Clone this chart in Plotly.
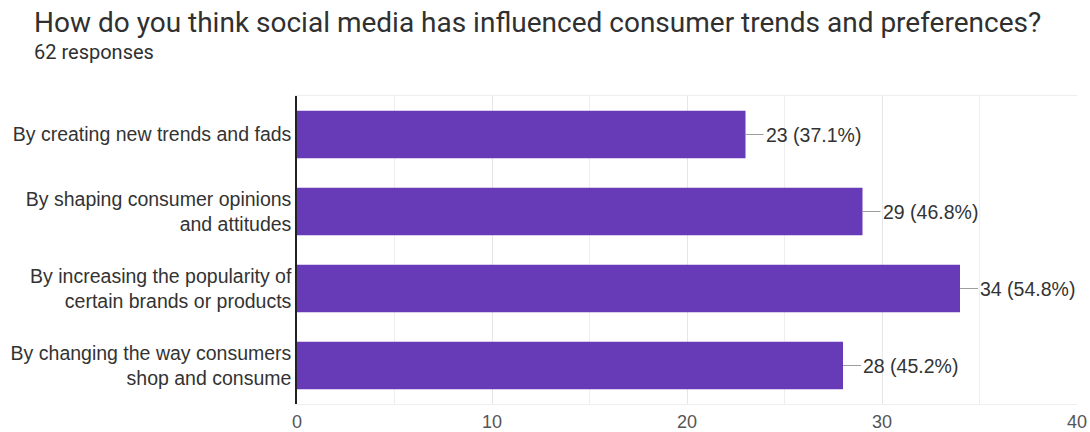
import plotly.graph_objects as go

categories = [
    "By creating new trends and fads",
    "By shaping consumer opinions<br>and attitudes",
    "By increasing the popularity of<br>certain brands or products",
    "By changing the way consumers<br>shop and consume",
]
counts = [23, 29, 34, 28]
percents = ["37.1%", "46.8%", "54.8%", "45.2%"]
x_ticks = [0, 10, 20, 30, 40]

title_text = "How do you think social media has influenced consumer trends and preferences?"
subtitle_text = "62 responses"

FONT = "Liberation Sans, Arial, sans-serif"
BAR = "#673ab7"

W, H = 1090, 432
ML, MR, MT, MB = 297, 13, 96, 28
PW, PH = W - ML - MR, H - MT - MB


def px_x(x):
    return (x - ML) / PW


def px_y(y):
    return (H - MB - y) / PH


fig = go.Figure()
fig.add_trace(go.Bar(
    x=counts, y=categories, orientation="h",
    marker=dict(color=BAR, line=dict(width=0)),
    width=0.62, hoverinfo="skip",
))

for c, p, cat in zip(counts, percents, categories):
    fig.add_annotation(
        x=c, y=cat, xref="x", yref="y",
        text=f"{c} ({p})", showarrow=True, arrowhead=0, arrowwidth=1,
        arrowcolor="#9e9e9e", ax=18, ay=0, xanchor="left",
        font=dict(family=FONT, size=19.5, color="#333333"),
    )

fig.add_annotation(
    xref="paper", yref="paper", x=px_x(32), y=px_y(22),
    xanchor="left", yanchor="middle", showarrow=False,
    text=title_text, font=dict(family="Roboto, sans-serif", size=28, color="#303030"),
)
fig.add_annotation(
    xref="paper", yref="paper", x=px_x(32), y=px_y(52),
    xanchor="left", yanchor="middle", showarrow=False,
    text=subtitle_text, font=dict(family="Roboto, sans-serif", size=20, color="#303030"),
)

fig.update_layout(
    width=W, height=H,
    margin=dict(l=ML, r=MR, t=MT, b=MB, autoexpand=False),
    paper_bgcolor="white", plot_bgcolor="white",
    showlegend=False,
)
fig.update_xaxes(
    range=[0, 40], tickvals=x_ticks, ticktext=[str(v) for v in x_ticks],
    showgrid=True, gridcolor="#e6e6e6", gridwidth=1,
    minor=dict(dtick=5, tick0=0, showgrid=True, gridcolor="#eeeeee", gridwidth=1),
    zeroline=False, showline=True, mirror=True, linecolor="#eeeeee", linewidth=1,
    tickfont=dict(family=FONT, size=18, color="#555555"),
    ticks="", ticklabelstandoff=1, fixedrange=True, automargin=False,
)
fig.update_yaxes(
    categoryorder="array", categoryarray=categories[::-1],
    showline=True, linecolor="#222222", linewidth=1.5,
    showgrid=False, ticks="", ticklabelstandoff=0,
    tickfont=dict(family=FONT, size=19.5, color="#333333"),
    fixedrange=True, automargin=False,
)

fig.write_html("out.html")
